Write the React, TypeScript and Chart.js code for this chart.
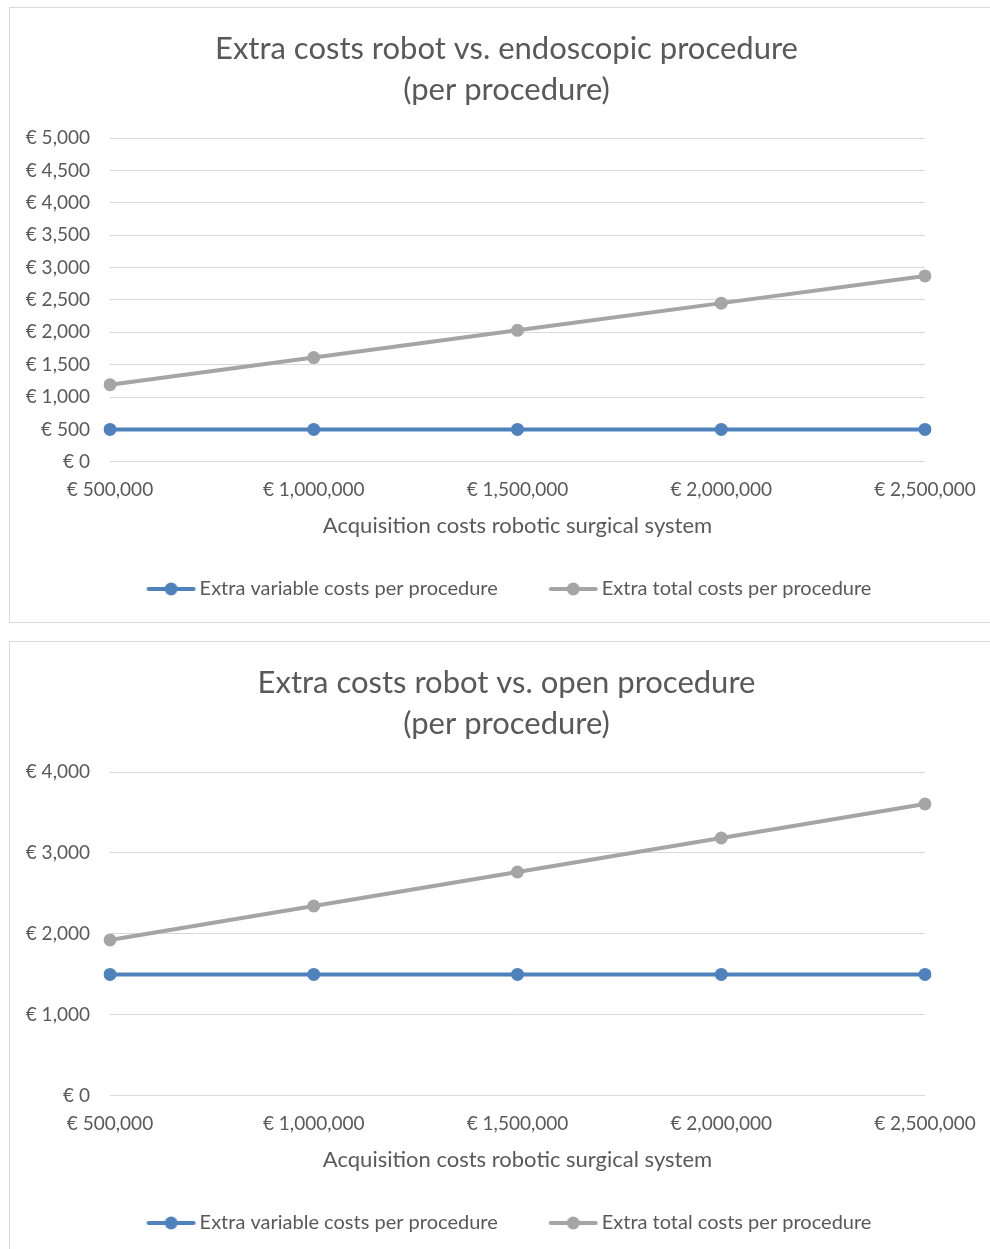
import React, { useEffect, useRef } from "react";
import { Chart, registerables } from "chart.js";
Chart.register(...registerables);

const categories = ["€ 500,000", "€ 1,000,000", "€ 1,500,000", "€ 2,000,000", "€ 2,500,000"];
const seriesNames = ["Extra variable costs per procedure", "Extra total costs per procedure"];
const endoVariable = [500, 500, 500, 500, 500];
const endoTotal = [1190, 1610, 2030, 2450, 2870];
const openVariable = [1500, 1500, 1500, 1500, 1500];
const openTotal = [1925, 2345, 2765, 3185, 3605];
const endoTitle = ["Extra costs robot vs. endoscopic procedure", "(per procedure)"];
const openTitle = ["Extra costs robot vs. open procedure", "(per procedure)"];
const xAxisTitle = "Acquisition costs robotic surgical system";
const endoYMax = 5000;
const endoYStep = 500;
const openYMax = 4000;
const openYStep = 1000;

const BLUE = "#4f81bd";
const GRAY = "#a5a5a5";
const TEXT = "#595959";
const GRID = "#d9d9d9";
const FONT = "Lato, 'Open Sans', sans-serif";

// legend marker: line with a dot, drawn into a slightly wider transparent image
function makeMarker(color: string): HTMLCanvasElement {
  const c = document.createElement("canvas");
  c.width = 62;
  c.height = 14;
  const ctx = c.getContext("2d")!;
  const x0 = 12;
  ctx.strokeStyle = color;
  ctx.lineWidth = 4;
  ctx.lineCap = "round";
  ctx.beginPath();
  ctx.moveTo(x0 + 2, 7);
  ctx.lineTo(x0 + 47, 7);
  ctx.stroke();
  ctx.fillStyle = color;
  ctx.beginPath();
  ctx.arc(x0 + 24.5, 7, 6.5, 0, Math.PI * 2);
  ctx.fill();
  return c;
}

const fmt = (v: number) => "€ " + Number(v).toLocaleString("en-US");

function ChartBox(props: {
  top: number;
  title: string[];
  variable: number[];
  total: number[];
  yMax: number;
  yStep: number;
}) {
  const ref = useRef<HTMLCanvasElement>(null);
  useEffect(() => {
    const markers = [makeMarker(BLUE), makeMarker(GRAY)];
    const chart = new Chart(ref.current!, {
      type: "line",
      data: {
        labels: categories,
        datasets: [
          {
            label: seriesNames[0],
            data: props.variable,
            borderColor: BLUE,
            backgroundColor: BLUE,
            borderWidth: 4,
            pointRadius: 6.5,
            pointBorderWidth: 0,
            pointBackgroundColor: BLUE,
            tension: 0,
          },
          {
            label: seriesNames[1],
            data: props.total,
            borderColor: GRAY,
            backgroundColor: GRAY,
            borderWidth: 4,
            pointRadius: 6.5,
            pointBorderWidth: 0,
            pointBackgroundColor: GRAY,
            tension: 0,
          },
        ],
      },
      options: {
        responsive: false,
        animation: false,
        layout: { padding: { left: 0, right: 0, top: 12, bottom: 13 } },
        plugins: {
          title: {
            display: true,
            text: props.title,
            color: TEXT,
            font: { family: FONT, size: 31, weight: "normal", lineHeight: 41 / 31 },
            padding: { top: 8, bottom: 28 },
          },
          legend: {
            position: "bottom",
            labels: {
              usePointStyle: true,
              pointStyleWidth: 48,
              color: TEXT,
              font: { family: FONT, size: 20 },
              padding: 46,
              generateLabels: (chart: any) =>
                chart.data.datasets.map((d: any, i: number) => ({
                  text: d.label,
                  pointStyle: markers[i],
                  fillStyle: d.borderColor,
                  strokeStyle: d.borderColor,
                  lineWidth: 0,
                  hidden: false,
                  datasetIndex: i,
                  fontColor: TEXT,
                })),
            },
          },
          tooltip: { enabled: false },
        },
        scales: {
          x: {
            offset: false,
            grid: { display: false, drawTicks: false },
            border: { display: false },
            ticks: { color: TEXT, font: { family: FONT, size: 19 }, padding: 17, maxRotation: 0 },
            title: {
              display: true,
              text: xAxisTitle,
              color: TEXT,
              font: { family: FONT, size: 22 },
              padding: { top: -6, bottom: -6 },
            },
          },
          y: {
            min: 0,
            max: props.yMax,
            afterFit: (s: any) => {
              s.width = 100;
            },
            grid: { color: GRID, lineWidth: 1, drawTicks: false },
            border: { display: false },
            ticks: {
              stepSize: props.yStep,
              color: TEXT,
              font: { family: FONT, size: 19 },
              padding: 20,
              callback: (v: any) => fmt(v),
            },
          },
          spacer: {
            type: "linear",
            position: "right",
            display: true,
            afterFit: (s: any) => {
              s.width = 78;
            },
            grid: { display: false, drawTicks: false },
            border: { display: false },
            ticks: { display: false },
          },
        },
      },
    } as any);
    return () => chart.destroy();
  }, []);
  return (
    <div
      style={{
        position: "absolute",
        left: 9,
        top: props.top,
        width: 993,
        height: 614,
        border: "1px solid #d9d9d9",
        background: "#fff",
      }}
    >
      <canvas ref={ref} width={993} height={614} style={{ display: "block" }} />
    </div>
  );
}

export default function App() {
  return (
    <div
      style={{
        position: "absolute",
        left: 0,
        top: 0,
        width: 990,
        height: 1249,
        overflow: "hidden",
        background: "#fff",
      }}
    >
      <ChartBox top={7} title={endoTitle} variable={endoVariable} total={endoTotal} yMax={endoYMax} yStep={endoYStep} />
      <ChartBox top={641} title={openTitle} variable={openVariable} total={openTotal} yMax={openYMax} yStep={openYStep} />
    </div>
  );
}
